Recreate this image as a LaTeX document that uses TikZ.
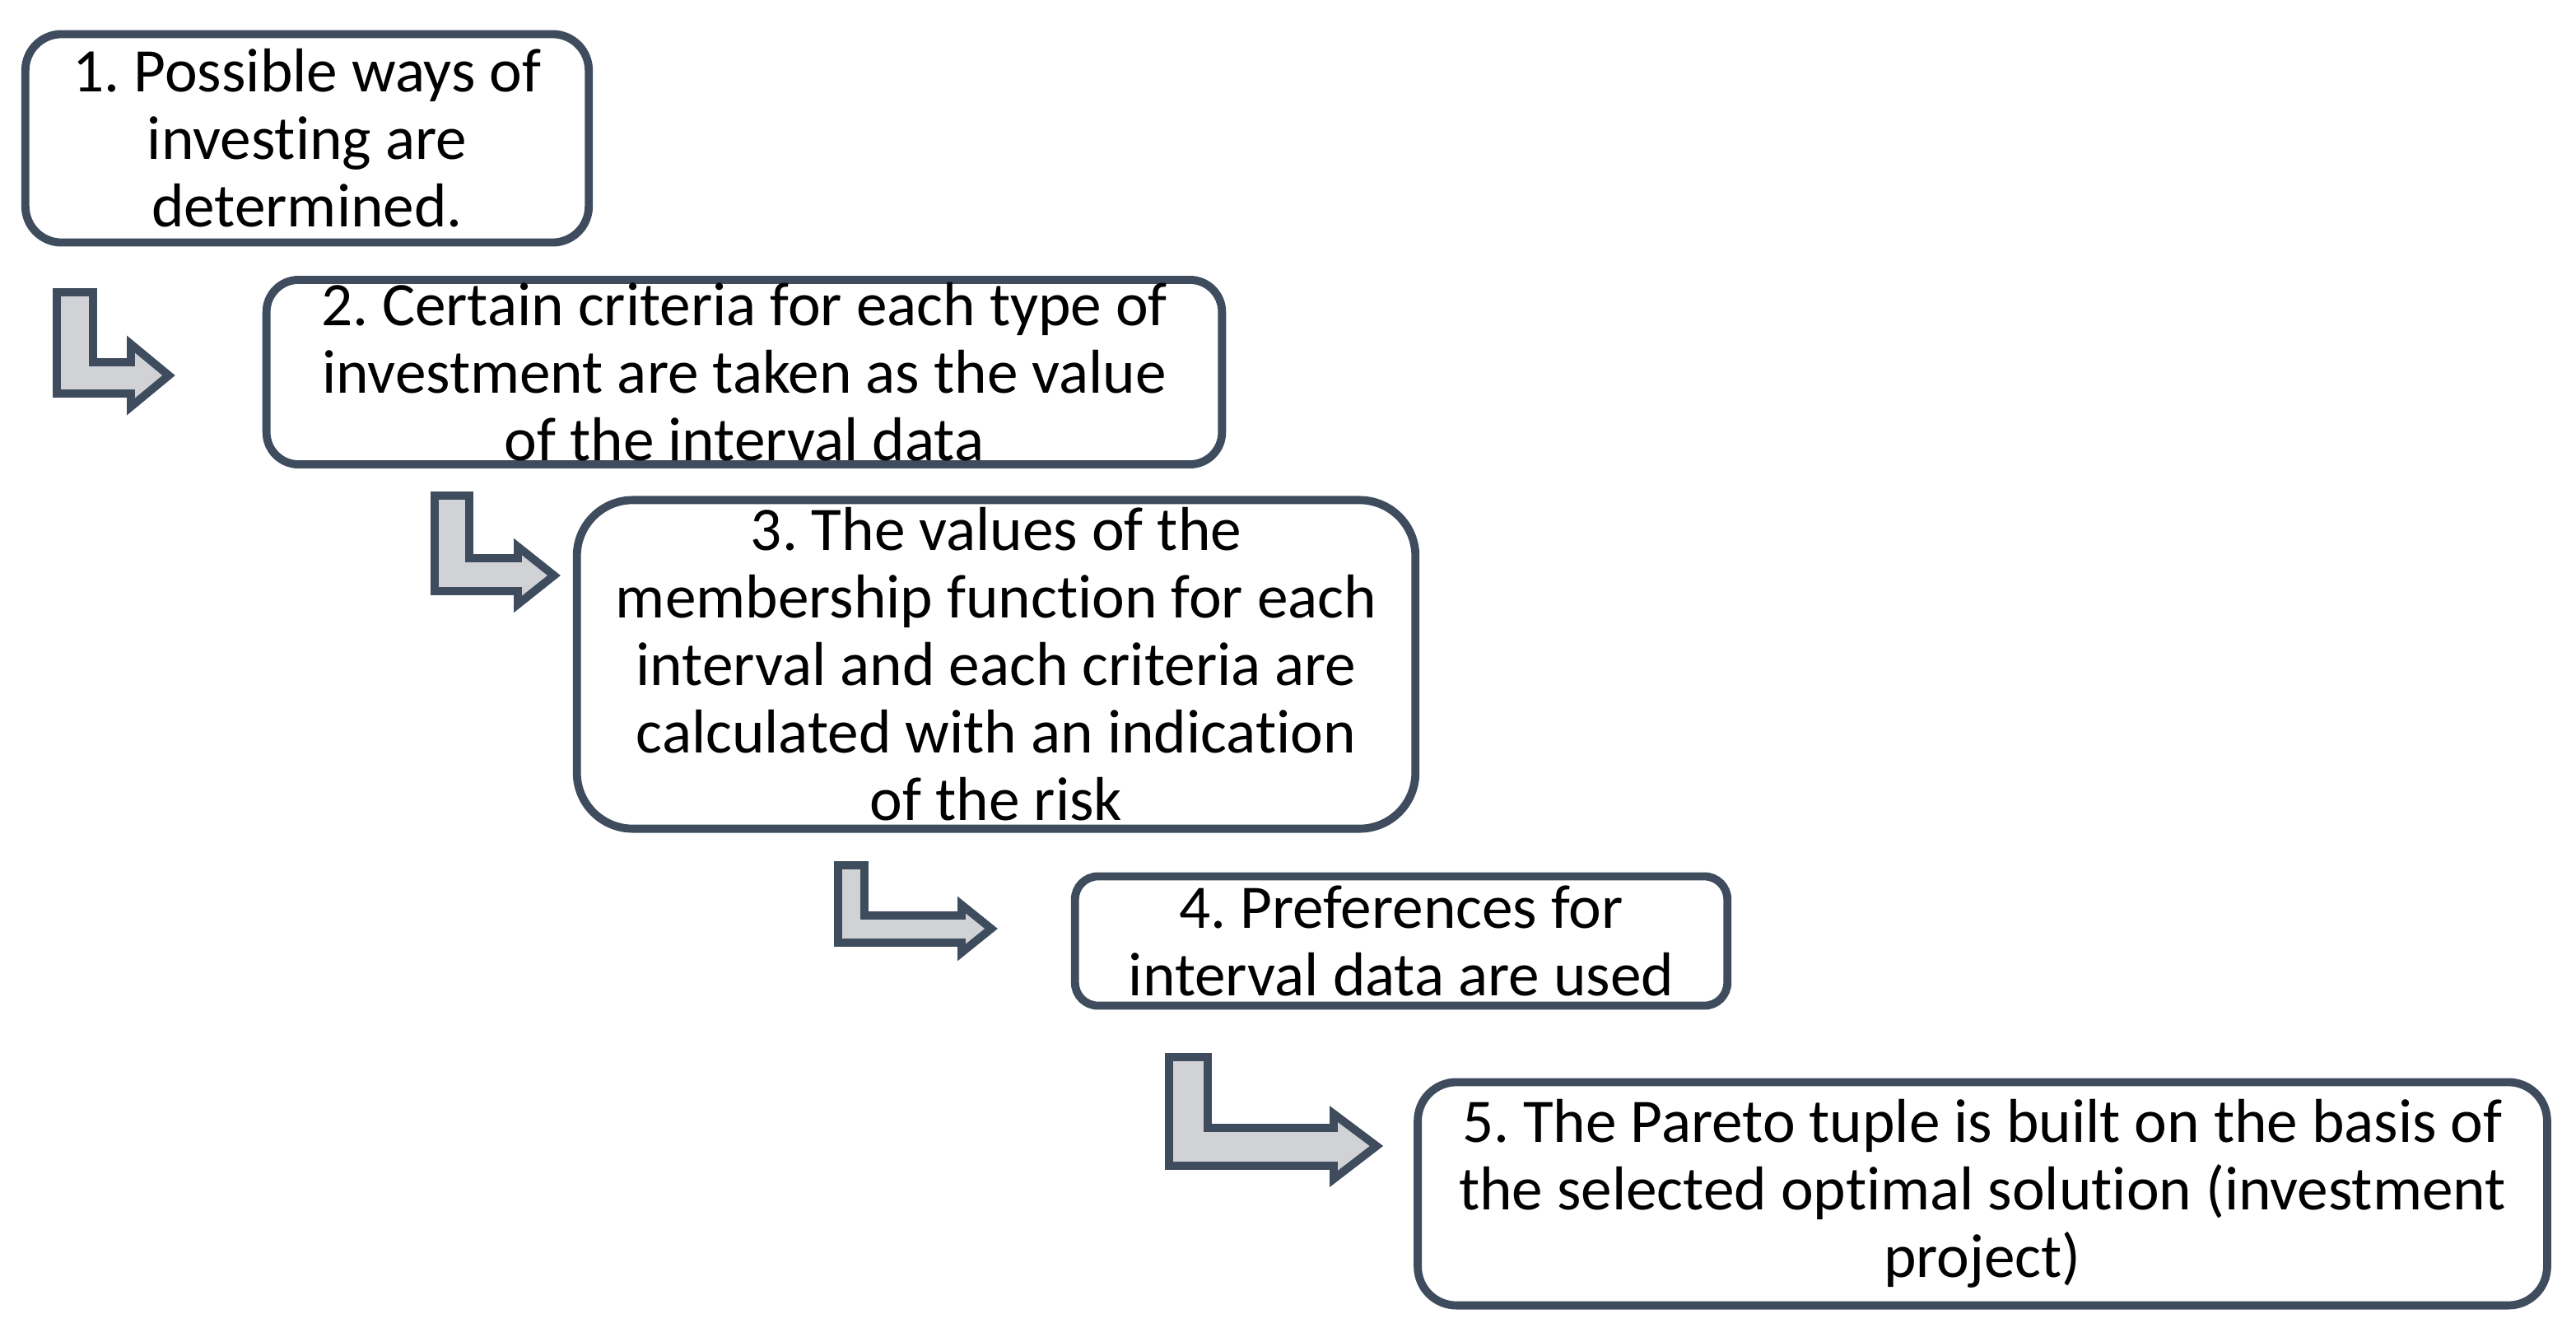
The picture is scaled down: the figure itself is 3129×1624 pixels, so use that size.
\documentclass[tikz,border=0pt]{standalone}
\usepackage{fontspec}
\setmainfont[Ligatures=NoCommon]{Carlito}
\definecolor{edge}{HTML}{3E4C5E}
\definecolor{arrowfill}{HTML}{D0D2D6}
\tikzset{
  stepbox/.style={draw=edge, line width=2.8pt, fill=white, rectangle, inner sep=0pt, align=center,
    font=\fontsize{21.4}{23.3}\selectfont\frenchspacing},
  bent/.style={draw=edge, fill=arrowfill, line width=2.8pt, line join=miter}
}
\begin{document}
\begin{tikzpicture}[x=0.01cm, y=-0.01cm]
\useasboundingbox (0,0) rectangle (3129,1624);
\node[stepbox, minimum width=6.84cm, minimum height=2.53cm, rounded corners=0.44cm] (b1) at (373,168)
  {1. Possible ways of\\investing are\\determined.};
\node[stepbox, minimum width=11.60cm, minimum height=2.24cm, rounded corners=0.39cm] (b2) at (904,452)
  {2. Certain criteria for each type of\\investment are taken as the value\\of the interval data};
\node[stepbox, minimum width=10.18cm, minimum height=3.99cm, rounded corners=0.68cm] (b3) at (1210,807)
  {3. The values of the\\membership function for each\\interval and each criteria are\\calculated with an indication\\of the risk};
\node[stepbox, minimum width=7.92cm, minimum height=1.57cm, rounded corners=0.28cm] (b4) at (1702,1143)
  {4. Preferences for\\interval data are used};
\node[stepbox, minimum width=13.71cm, minimum height=2.71cm, rounded corners=0.47cm] (b5) at (2408,1450)
  {5. The Pareto tuple is built on the basis of\\the selected optimal solution (investment\\project)};
% bent arrows
\draw[bent] (69,355) -- (113,355) -- (113,440) -- (159,440) -- (159,418) -- (205,456) -- (159,494) -- (159,478) -- (69,478) -- cycle;
\draw[bent] (528,602) -- (570,602) -- (570,678) -- (629,678) -- (629,664) -- (673,699) -- (629,734) -- (629,718) -- (528,718) -- cycle;
\draw[bent] (1018,1051) -- (1050,1051) -- (1050,1112) -- (1168,1112) -- (1168,1099) -- (1204,1128) -- (1168,1157) -- (1168,1145) -- (1018,1145) -- cycle;
\draw[bent] (1420,1284) -- (1467,1284) -- (1467,1370) -- (1620,1370) -- (1620,1353) -- (1672,1392) -- (1620,1432) -- (1620,1416) -- (1420,1416) -- cycle;
\end{tikzpicture}
\end{document}
